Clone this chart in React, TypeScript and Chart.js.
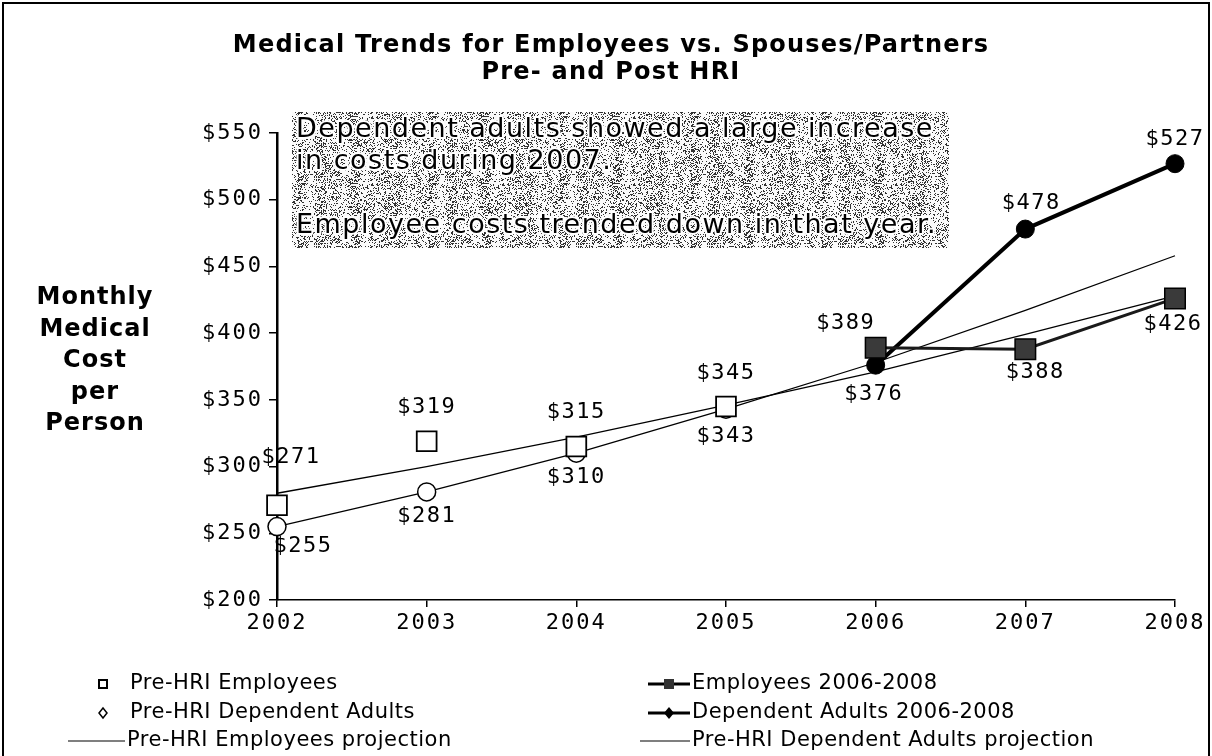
import React, { useEffect, useRef } from 'react';
import { Chart, registerables } from 'chart.js';

Chart.register(...registerables);

// ---- data ----
const years = ['2002', '2003', '2004', '2005', '2006', '2007', '2008'];
const preHriEmployees = [271, 319, 315, 345, null, null, null];
const preHriDependents = [255, 281, 310, 343, null, null, null];
const employees0608 = [null, null, null, null, 389, 388, 426];
const dependents0608 = [null, null, null, null, 376, 478, 527];
const employeesProjection = [280, 300, 322, 346, 371, 399, 428];
const dependentsProjection = [255, 281, 310, 343, 378, 417, 458];
const yTickValues = [200, 250, 300, 350, 400, 450, 500, 550];

const titleLines = ['Medical Trends for Employees vs. Spouses/Partners', 'Pre- and Post HRI'];
const yTitleLines = ['Monthly', 'Medical', 'Cost', 'per', 'Person'];
const noteLines = [
  'Dependent adults showed a large increase',
  'in costs during 2007.',
  '',
  'Employee costs trended down in that year.',
];
const legendLabels = [
  'Pre-HRI Employees',
  'Employees 2006-2008',
  'Pre-HRI Dependent Adults',
  'Dependent Adults 2006-2008',
  'Pre-HRI Employees projection',
  'Pre-HRI Dependent Adults projection',
];

// label offsets (style) per dataset index -> per point
const labelOffsets: Record<number, Record<number, [number, number]>> = {
  0: { 0: [14, -48], 1: [0, -34], 2: [0, -34], 3: [0, -33] },
  1: { 0: [26, 20], 1: [0, 24], 2: [0, 24], 3: [0, 27] },
  2: { 4: [-30, -25], 5: [10, 23], 6: [-2, 26] },
  3: { 4: [-2, 29], 5: [6, -26], 6: [0, -24] },
};

const MONO = "'DejaVu Sans Mono', monospace";
const SANS = "'DejaVu Sans', Verdana, sans-serif";

function makeDither(): CanvasPattern | string {
  const c = document.createElement('canvas');
  c.width = 131;
  c.height = 67;
  const g = c.getContext('2d');
  if (!g) return '#b0b0b0';
  const img = g.createImageData(c.width, c.height);
  let s = 12345;
  for (let y = 0; y < c.height; y++) {
    for (let x = 0; x < c.width; x++) {
      s = (s * 1103515245 + 12345) & 0x7fffffff;
      const r = (s >> 8) / 8388608;
      const band = 0.25 + 0.13 * Math.sin(x * 0.29) * Math.sin(x * 0.071 + 1.3);
      const v = r < band ? 50 : 250;
      const k = (y * c.width + x) * 4;
      img.data[k] = v;
      img.data[k + 1] = v;
      img.data[k + 2] = v;
      img.data[k + 3] = 255;
    }
  }
  g.putImageData(img, 0, 0);
  return g.createPattern(c, 'repeat') || '#b0b0b0';
}

export default function App() {
  const ref = useRef<HTMLCanvasElement | null>(null);

  useEffect(() => {
    document.body.style.margin = '0';
    const canvas = ref.current;
    if (!canvas) return;
    const dither = makeDither();

    const overlay = {
      id: 'overlay',
      beforeDraw(chart: any) {
        const ctx = chart.ctx;
        ctx.save();
        ctx.fillStyle = '#ffffff';
        ctx.fillRect(0, 0, chart.width, chart.height);
        ctx.restore();
        (ctx as any).letterSpacing = '2px';
      },
      beforeDatasetsDraw(chart: any) {
        const ctx = chart.ctx as CanvasRenderingContext2D;
        ctx.save();
        // note box
        ctx.fillStyle = dither as any;
        ctx.fillRect(292, 112, 657, 136);
        ctx.font = `27px ${SANS}`;
        (ctx as any).letterSpacing = '1.5px';
        ctx.textAlign = 'left';
        ctx.textBaseline = 'middle';
        ctx.lineJoin = 'round';
        noteLines.forEach((t, i) => {
          if (!t) return;
          ctx.strokeStyle = '#ffffff';
          ctx.lineWidth = 4;
          ctx.strokeText(t, 296, 130 + i * 32);
          ctx.fillStyle = '#000';
          ctx.fillText(t, 296, 130 + i * 32);
        });
        ctx.restore();
      },
      afterDraw(chart: any) {
        const ctx = chart.ctx as CanvasRenderingContext2D;
        ctx.save();
        (ctx as any).letterSpacing = '0px';

        // outer border
        ctx.strokeStyle = '#000';
        ctx.lineWidth = 2;
        ctx.beginPath();
        ctx.moveTo(3, chart.height);
        ctx.lineTo(3, 3);
        ctx.lineTo(chart.width - 3, 3);
        ctx.lineTo(chart.width - 3, chart.height);
        ctx.stroke();

        // title
        ctx.fillStyle = '#000';
        ctx.textAlign = 'center';
        ctx.textBaseline = 'middle';
        ctx.font = `bold 24px ${SANS}`;
        (ctx as any).letterSpacing = '1.2px';
        titleLines.forEach((t, i) => ctx.fillText(t, 611, 46 + i * 27));

        // y title
        ctx.font = `bold 24px ${SANS}`;
        (ctx as any).letterSpacing = '1px';
        yTitleLines.forEach((t, i) => ctx.fillText(t, 95, 298 + i * 31.5));

        // data labels
        ctx.font = `22px ${MONO}`;
        (ctx as any).letterSpacing = '1.5px';
        chart.data.datasets.forEach((ds: any, di: number) => {
          const offs = labelOffsets[di];
          if (!offs) return;
          const meta = chart.getDatasetMeta(di);
          ds.data.forEach((v: number | null, j: number) => {
            if (v == null || !offs[j]) return;
            const p = meta.data[j];
            ctx.fillText('$' + v, p.x + offs[j][0], p.y + offs[j][1]);
          });
        });

        // legend
        ctx.font = `21px ${SANS}`;
        (ctx as any).letterSpacing = '0.5px';
        ctx.textAlign = 'left';
        const rows = [684, 713, 741];
        ctx.strokeStyle = '#000';
        ctx.fillStyle = '#000';
        // row 1 left: hollow square
        ctx.lineWidth = 2;
        ctx.strokeRect(99, rows[0] - 4, 8, 8);
        ctx.fillText(legendLabels[0], 130, rows[0]);
        // row 1 right: thick line with filled square
        ctx.lineWidth = 3;
        ctx.beginPath();
        ctx.moveTo(648, rows[0]);
        ctx.lineTo(690, rows[0]);
        ctx.stroke();
        ctx.fillStyle = '#333';
        ctx.fillRect(664, rows[0] - 5, 10, 10);
        ctx.fillStyle = '#000';
        ctx.fillText(legendLabels[1], 692, rows[0]);
        // row 2 left: hollow diamond
        ctx.lineWidth = 1.5;
        ctx.beginPath();
        ctx.moveTo(103, rows[1] - 5);
        ctx.lineTo(107, rows[1]);
        ctx.lineTo(103, rows[1] + 5);
        ctx.lineTo(99, rows[1]);
        ctx.closePath();
        ctx.stroke();
        ctx.fillText(legendLabels[2], 130, rows[1]);
        // row 2 right: thick line with filled diamond
        ctx.lineWidth = 3;
        ctx.beginPath();
        ctx.moveTo(648, rows[1]);
        ctx.lineTo(690, rows[1]);
        ctx.stroke();
        ctx.beginPath();
        ctx.moveTo(669, rows[1] - 6);
        ctx.lineTo(674, rows[1]);
        ctx.lineTo(669, rows[1] + 6);
        ctx.lineTo(664, rows[1]);
        ctx.closePath();
        ctx.fill();
        ctx.fillText(legendLabels[3], 692, rows[1]);
        // row 3: thin lines
        ctx.lineWidth = 1.2;
        ctx.beginPath();
        ctx.moveTo(68, rows[2]);
        ctx.lineTo(125, rows[2]);
        ctx.stroke();
        ctx.fillText(legendLabels[4], 127, rows[2]);
        ctx.beginPath();
        ctx.moveTo(640, rows[2]);
        ctx.lineTo(690, rows[2]);
        ctx.stroke();
        ctx.fillText(legendLabels[5], 692, rows[2]);

        ctx.restore();
      },
    };

    const chart = new Chart(canvas, {
      type: 'line',
      data: {
        labels: years,
        datasets: [
          {
            label: legendLabels[0],
            data: preHriEmployees,
            showLine: false,
            pointStyle: 'rect',
            pointRadius: 14,
            pointBackgroundColor: '#ffffff',
            pointBorderColor: '#000',
            pointBorderWidth: 1.8,
            borderColor: '#000',
            clip: false,
          },
          {
            label: legendLabels[2],
            data: preHriDependents,
            showLine: false,
            pointStyle: 'circle',
            pointRadius: 9,
            pointBackgroundColor: '#ffffff',
            pointBorderColor: '#000',
            pointBorderWidth: 1.5,
            borderColor: '#000',
            clip: false,
          },
          {
            label: legendLabels[1],
            data: employees0608,
            borderColor: '#1a1a1a',
            borderWidth: 3,
            pointStyle: 'rect',
            pointRadius: 14.5,
            pointBackgroundColor: '#3a3a3a',
            pointBorderColor: '#000',
            pointBorderWidth: 1.5,
            clip: false,
          },
          {
            label: legendLabels[3],
            data: dependents0608,
            borderColor: '#000',
            borderWidth: 4,
            pointStyle: 'circle',
            pointRadius: 9,
            pointBackgroundColor: '#000',
            pointBorderColor: '#000',
            pointBorderWidth: 1,
            clip: false,
          },
          {
            label: legendLabels[4],
            data: employeesProjection,
            borderColor: '#000',
            borderWidth: 1.3,
            pointRadius: 0,
            clip: false,
          },
          {
            label: legendLabels[5],
            data: dependentsProjection,
            borderColor: '#000',
            borderWidth: 1.3,
            pointRadius: 0,
            clip: false,
          },
        ],
      },
      options: {
        responsive: false,
        animation: false,
        devicePixelRatio: 1,
        layout: { padding: { top: 133, left: 0, right: 37, bottom: 116 } },
        plugins: {
          legend: { display: false },
          title: { display: false },
          tooltip: { enabled: false },
        },
        scales: {
          x: {
            type: 'category',
            offset: false,
            afterFit: (s: any) => {
              s.height = 40;
            },
            grid: {
              display: true,
              drawOnChartArea: false,
              drawTicks: true,
              tickLength: 7,
              color: '#000',
              lineWidth: 1.5,
            },
            border: { display: true, color: '#000', width: 1.5 },
            ticks: {
              color: '#000',
              font: { family: MONO, size: 22 },
              padding: 3,
              maxRotation: 0,
            },
          },
          y: {
            min: 200,
            max: 550,
            afterFit: (s: any) => {
              s.width = 277;
            },
            afterBuildTicks: (s: any) => {
              s.ticks = yTickValues.map((v) => ({ value: v }));
            },
            grid: {
              display: true,
              drawOnChartArea: false,
              drawTicks: true,
              tickLength: 8,
              color: '#000',
              lineWidth: 1.5,
            },
            border: { display: true, color: '#000', width: 2.5 },
            ticks: {
              color: '#000',
              font: { family: MONO, size: 22 },
              padding: 6,
              callback: (v: any) => '$' + v,
            },
          },
        },
      },
      plugins: [overlay],
    } as any);

    return () => chart.destroy();
  }, []);

  return (
    <canvas
      ref={ref}
      width={1212}
      height={756}
      style={{ display: 'block', width: '1212px', height: '756px' }}
    />
  );
}
